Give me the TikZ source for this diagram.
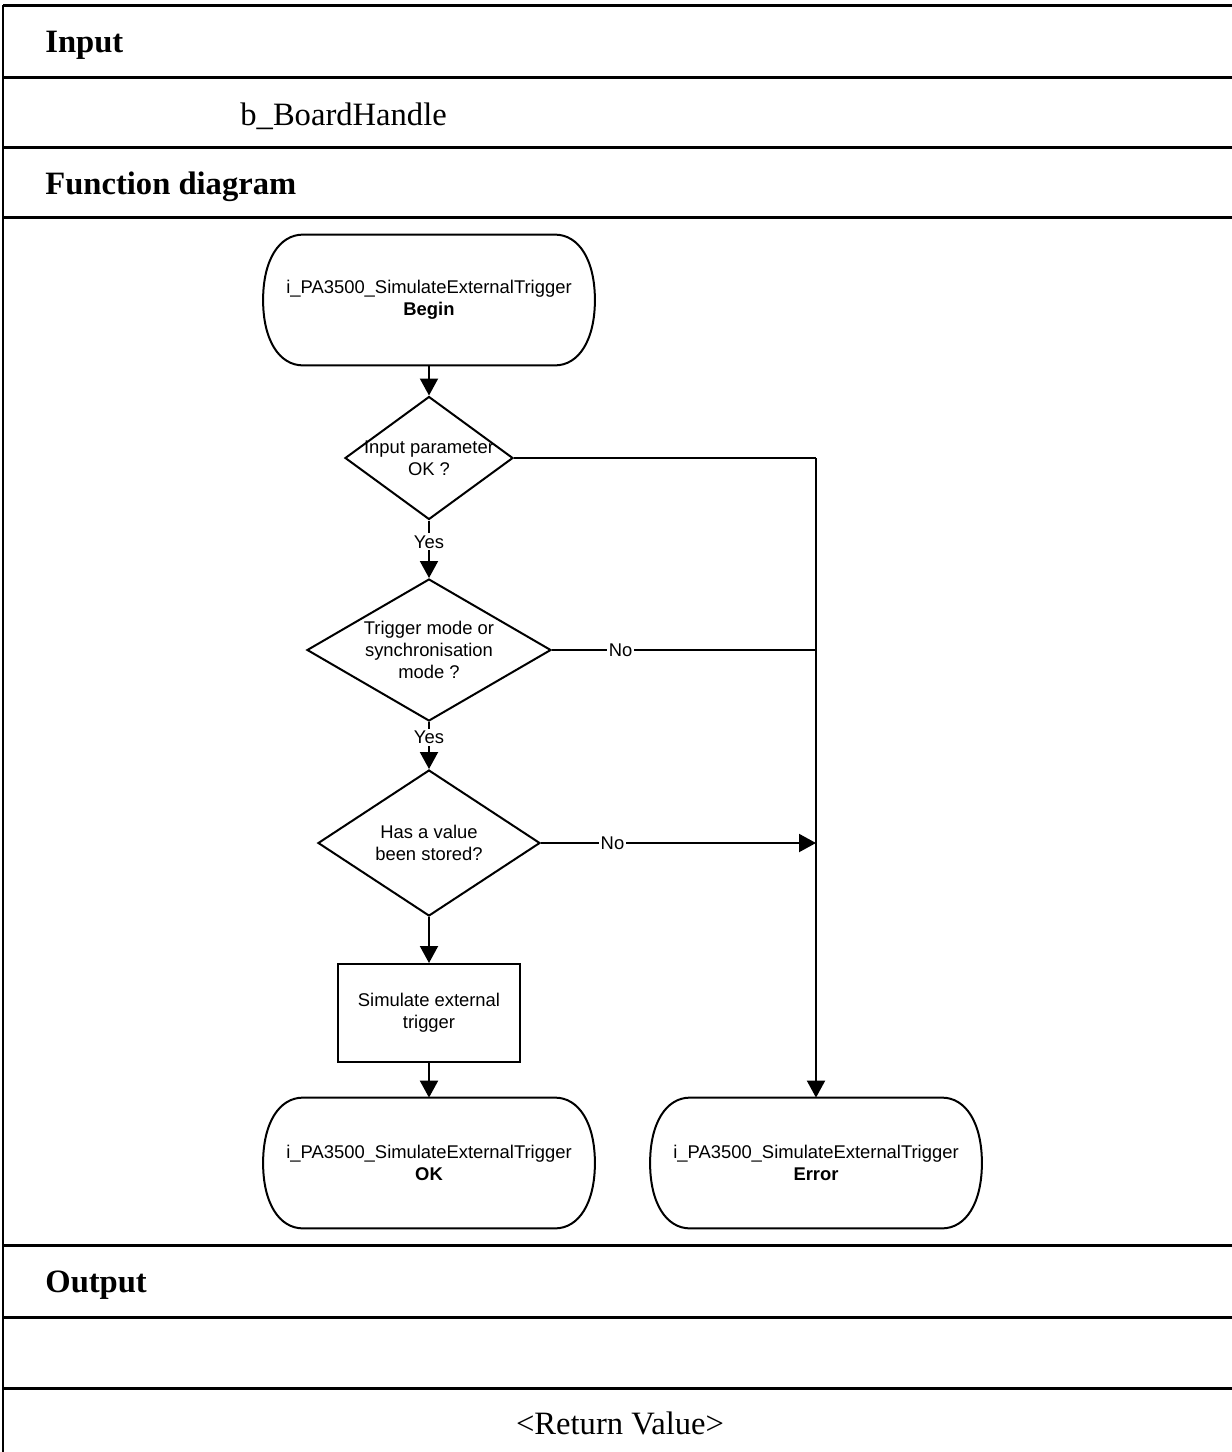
\documentclass[tikz,border=0pt]{standalone}
\usepackage{fontspec}
\setmainfont{Liberation Serif}
\newfontfamily\flowfont{Liberation Sans}
\usetikzlibrary{shapes.geometric,arrows.meta}
\begin{document}
\begin{tikzpicture}[x=0.5pt,y=-0.5pt,
  tabline/.style={line width=1.5pt},
  head/.style={anchor=base west,inner sep=0pt,font=\fontsize{16.3pt}{19pt}\selectfont\bfseries},
  plain/.style={anchor=base west,inner sep=0pt,font=\fontsize{16.3pt}{19pt}\selectfont},
  flow/.style={line width=1pt},
  arr/.style={flow,-{Triangle[length=8.5pt,width=9pt]}},
  ftext/.style={font=\flowfont\fontsize{9.2pt}{11pt}\selectfont,align=center},
  term/.style={ftext,minimum width=165.5pt,minimum height=65pt,inner sep=0pt},
  dec/.style={diamond,draw,line width=1pt,inner sep=0pt},
  proc/.style={rectangle,draw,line width=1pt,ftext,minimum width=91pt,minimum height=49pt,inner sep=0pt},
  lbl/.style={ftext,fill=white,inner sep=1pt}
]
\useasboundingbox (0,0) rectangle (1232,1452);
% table
\foreach \yy in {5,77,147,217,1245,1317,1388}{
  \draw[tabline] (3,\yy) -- (1232,\yy);
}
\draw[line width=1pt] (3,5) -- (3,1452);
\node[head] (hin) at (45,52) {Input};
\node[plain] (bh) at (240,125) {b\_BoardHandle};
\node[head] (hfd) at (45,194) {Function diagram};
\node[head] (hout) at (45,1292) {Output};
\node[plain,anchor=base] (rv) at (620,1434) {<Return Value>};

% flowchart nodes
\node[term] (begin) at (429,300) {i\_PA3500\_SimulateExternalTrigger\\\textbf{Begin}};
\node[dec,minimum width=84pt,minimum height=61.5pt,
  label={[ftext]center:Input parameter\\OK ?}] (d1) at (429,458) {};
\node[dec,minimum width=122pt,minimum height=71pt,
  label={[ftext]center:Trigger mode or\\synchronisation\\mode ?}] (d2) at (429,650) {};
\node[dec,minimum width=111pt,minimum height=73pt,
  label={[ftext]center:Has a value\\been stored?}] (d3) at (429,843) {};
\node[proc] (sim) at (429,1013) {Simulate external\\trigger};
\node[term] (ok) at (429,1163) {i\_PA3500\_SimulateExternalTrigger\\\textbf{OK}};
\node[term] (err) at (816,1163) {i\_PA3500\_SimulateExternalTrigger\\\textbf{Error}};

% terminal outlines (elliptic ends)
\foreach \n in {begin,ok,err}{
  \draw[flow] ([xshift=20pt]\n.north west) -- ([xshift=-20pt]\n.north east)
    .. controls ([xshift=-8pt]\n.north east) and ([yshift=20pt]\n.east) .. (\n.east)
    .. controls ([yshift=-20pt]\n.east) and ([xshift=-8pt]\n.south east) .. ([xshift=-20pt]\n.south east)
    -- ([xshift=20pt]\n.south west)
    .. controls ([xshift=8pt]\n.south west) and ([yshift=-20pt]\n.west) .. (\n.west)
    .. controls ([yshift=20pt]\n.west) and ([xshift=8pt]\n.north west) .. ([xshift=20pt]\n.north west) -- cycle;
}

% connectors
\draw[arr] (begin.south) -- (d1.north);
\draw[arr] (d1.south) -- node[lbl,pos=0.37]{Yes} (d2.north);
\draw[arr] (d2.south) -- node[lbl,pos=0.33]{Yes} (d3.north);
\draw[arr] (d3.south) -- (sim.north);
\draw[arr] (sim.south) -- (ok.north);
\coordinate (j1) at (d1.east -| err.north);
\coordinate (j2) at (d2.east -| err.north);
\coordinate (j3) at (d3.east -| err.north);
\draw[flow] (d1.east) -- (j1);
\draw[arr] (j1) -- (err.north);
\draw[flow] (d2.east) -- node[lbl,pos=0.26]{No} (j2);
\draw[arr] (d3.east) -- node[lbl,pos=0.26]{No} (j3);
\end{tikzpicture}
\end{document}
